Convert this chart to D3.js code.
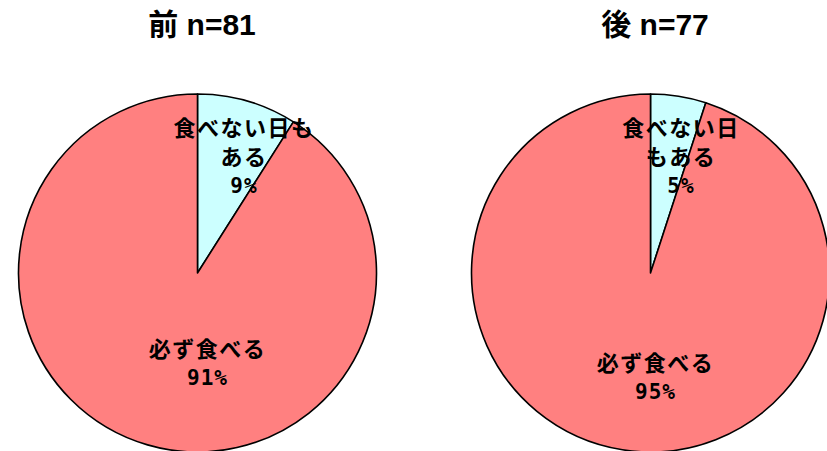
<!DOCTYPE html>
<html>
<head>
<meta charset="utf-8">
<script src="https://cdn.jsdelivr.net/npm/d3@7"></script>
<style>
  html, body { margin: 0; padding: 0; background: #ffffff; overflow: hidden; }
  svg { display: block; }
</style>
</head>
<body>
<svg id="chart" width="827" height="451"></svg>
<script>
// Survey groups and their sample sizes
const groups = ["前", "後"];
const sampleSizes = [81, 77];

// Answer categories (clockwise from 12 o'clock)
const categories = ["食べない日もある", "必ず食べる"];

// Percentages per group
const beforeValues = [9, 91];
const afterValues = [5, 95];

// Where each category name wraps onto a second line, per group
const wrapBefore = [6, null];
const wrapAfter = [5, null];

// ---- layout ----
const W = 827, H = 451;
const radius = 179;
const centers = [[197.5, 273], [650.5, 273]];
const titleY = 35;
const titleShift = 4.5;
const lineGap = 28.5;
// label block centre offsets from the pie centre, per pie / per slice
const labelOffsets = [
  [[46.5, -116], [10, 90.5]],
  [[30.5, -116], [5, 104.5]]
];
const colors = d3.scaleOrdinal().domain(categories).range(["#CCFFFF", "#FF8080"]);

const svg = d3.select("#chart");
const pie = d3.pie().sort(null).value(d => d.value);
const arc = d3.arc().innerRadius(0).outerRadius(radius);

const seriesList = [beforeValues, afterValues];
const wraps = [wrapBefore, wrapAfter];

groups.forEach((g, gi) => {
  const data = categories.map((c, i) => ({ category: c, value: seriesList[gi][i] }));
  const [cx, cy] = centers[gi];

  // title
  svg.append("text")
    .attr("x", cx + titleShift)
    .attr("y", titleY)
    .attr("text-anchor", "middle")
    .attr("font-family", "'Liberation Sans', Arial, 'Noto Sans CJK JP', sans-serif")
    .attr("font-weight", "bold")
    .attr("font-size", 30)
    .attr("fill", "#000")
    .text(`${g} n=${sampleSizes[gi]}`);

  const gPie = svg.append("g").attr("transform", `translate(${cx},${cy})`);

  gPie.selectAll("path")
    .data(pie(data))
    .join("path")
    .attr("d", arc)
    .attr("fill", d => colors(d.data.category))
    .attr("stroke", "#000")
    .attr("stroke-width", 1.6)
    .attr("stroke-linejoin", "round");

  // labels: wrapped category name + percentage
  pie(data).forEach((d, i) => {
    const name = d.data.category;
    const br = wraps[gi][i];
    const lines = br ? [name.slice(0, br), name.slice(br)] : [name];
    const allLines = lines.map(t => ({ t, pct: false }))
      .concat([{ t: `${d.data.value}%`, pct: true }]);
    const [ox, oy] = labelOffsets[gi][i];
    const n = allLines.length;
    const t = gPie.append("text")
      .attr("text-anchor", "middle")
      .attr("font-weight", "bold")
      .attr("fill", "#000");
    allLines.forEach((ln, k) => {
      t.append("tspan")
        .attr("x", ox)
        .attr("y", oy + (k - (n - 1) / 2) * lineGap)
        .attr("dy", "0.36em")
        .attr("font-family", ln.pct ? "'DejaVu Sans Mono', monospace" : "'Noto Sans CJK JP', sans-serif")
        .attr("font-size", ln.pct ? 21 : 22)
        .attr("letter-spacing", ln.pct ? 1 : 1.5)
        .text(ln.t);
    });
  });
});
</script>
</body>
</html>
